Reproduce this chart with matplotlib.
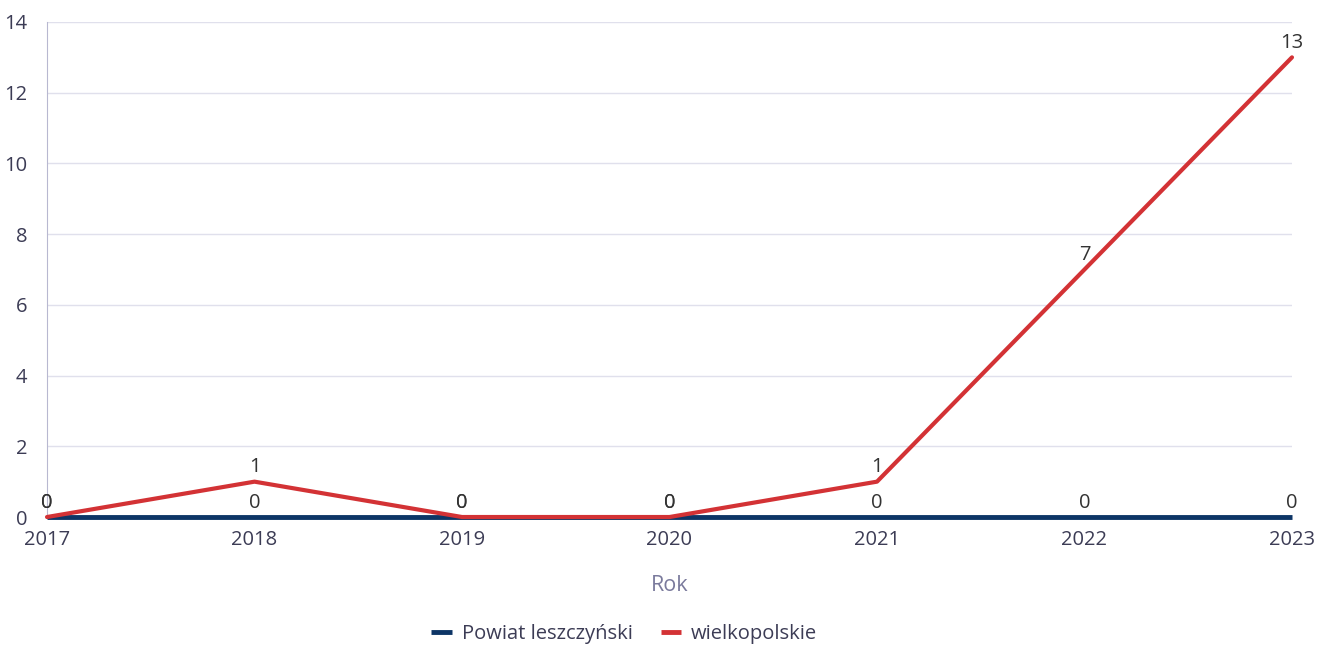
import matplotlib.pyplot as plt

plt.rcParams['font.family'] = ['Open Sans', 'DejaVu Sans']

years = ['2017', '2018', '2019', '2020', '2021', '2022', '2023']
powiat = [0, 0, 0, 0, 0, 0, 0]
wlkp = [0, 1, 0, 0, 1, 7, 13]

blue = '#0d3566'
red = '#d33235'
text_col = '#333333'
tick_col = '#3c3c55'

fig = plt.figure(figsize=(13.17, 6.47), dpi=100)
ax = fig.add_axes([0.0357, 0.2009, 0.9453, 0.7651])

x = list(range(len(years)))
ax.plot(x, powiat, color=blue, lw=3.5, solid_capstyle='butt', label='Powiat leszczyński',
        zorder=3, clip_on=False)
ax.plot(x, wlkp, color=red, lw=3, solid_capstyle='round', label='wielkopolskie',
        zorder=4, clip_on=False)

for xi, v in zip(x, powiat):
    ax.annotate(str(v), (xi, v), xytext=(0, 3), textcoords='offset points',
                ha='center', va='bottom', fontsize=14.5, color=text_col, zorder=5)
for xi, v in zip(x, wlkp):
    ax.annotate(str(v), (xi, v), xytext=(0, 3), textcoords='offset points',
                ha='center', va='bottom', fontsize=14.5, color=text_col, zorder=5)

ax.set_xlim(0, len(years) - 1)
ax.set_ylim(0, 14)
ax.set_yticks(range(0, 15, 2))
ax.set_xticks(x)
ax.set_xticklabels(years)
ax.grid(axis='y', color='#e0e0ec', lw=1)
ax.set_axisbelow(True)
for s in ['top', 'right', 'bottom']:
    ax.spines[s].set_visible(False)
ax.spines['left'].set_color('#b8b8d0')
ax.tick_params(axis='both', length=0, labelsize=14.5, colors=tick_col)
ax.tick_params(axis='y', pad=14)
ax.tick_params(axis='x', pad=9)

ax.set_xlabel('Rok', fontsize=15.5, color='#7a7a9c', labelpad=18)

leg = fig.legend(loc='center', bbox_to_anchor=(0.474, 0.02), ncol=2, frameon=False,
                 fontsize=14.5, handlelength=1.0, handletextpad=0.5, columnspacing=1.4)
for t in leg.get_texts():
    t.set_color(tick_col)
for h in leg.get_lines():
    h.set_linewidth(3.5)
    h.set_solid_capstyle('butt')

fig.savefig('out.png', dpi=100)
